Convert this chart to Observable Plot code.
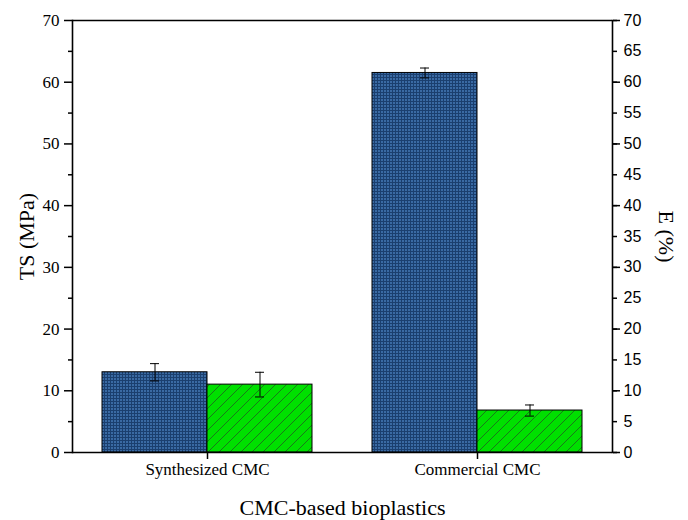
<!DOCTYPE html>
<html>
<head>
<meta charset="utf-8">
<script src="https://cdn.jsdelivr.net/npm/d3@7"></script>
<script src="https://cdn.jsdelivr.net/npm/@observablehq/plot@0.6"></script>
<style>
  body { margin: 0; background: #fff; }
</style>
</head>
<body>
<div id="chart"></div>
<script>
const categories = ["Synthesized CMC", "Commercial CMC"];
const series = ["TS", "E"];
const tsValues = [13.0, 61.5];
const tsErrors = [1.4, 0.8];
const eValues = [11.0, 6.8];
const eErrors = [2.0, 0.9];
const leftTicks = [0, 10, 20, 30, 40, 50, 60, 70];
const leftMinorTicks = [5, 15, 25, 35, 45, 55, 65];
const rightTicks = [0, 5, 10, 15, 20, 25, 30, 35, 40, 45, 50, 55, 60, 65, 70];

const rows = categories.flatMap((c, i) => [
  {category: c, series: "TS", value: tsValues[i], err: tsErrors[i]},
  {category: c, series: "E", value: eValues[i], err: eErrors[i]}
]);

const serif = "'Liberation Serif', 'Times New Roman', serif";
const sans = "'Liberation Sans', Arial, sans-serif";

const chart = Plot.plot({
  width: 688,
  height: 520,
  marginLeft: 72,
  marginRight: 76,
  marginTop: 20,
  marginBottom: 68,
  style: {fontFamily: serif, color: "#000", background: "#fff"},
  fx: {domain: categories, paddingInner: 0, paddingOuter: 0, axis: null},
  x: {domain: series, paddingInner: 0, paddingOuter: 0.274, axis: null},
  y: {domain: [0, 70], axis: null},
  marks: [
    Plot.barY(rows.filter(d => d.series === "TS"), {fx: "category", x: "series", y: "value", fill: "url(#dots)", stroke: "#000", strokeWidth: 1}),
    Plot.barY(rows.filter(d => d.series === "E"), {fx: "category", x: "series", y: "value", fill: "url(#hatch)", stroke: "#000", strokeWidth: 1}),
    Plot.ruleX(rows, {fx: "category", x: "series", y1: d => d.value - d.err, y2: d => d.value + d.err, stroke: "#000", strokeWidth: 1}),
    Plot.tickY(rows, {fx: "category", x: "series", y: d => d.value - d.err, stroke: "#000", inset: 48}),
    Plot.tickY(rows, {fx: "category", x: "series", y: d => d.value + d.err, stroke: "#000", inset: 48}),
    Plot.ruleY([0, 70], {stroke: "#000", strokeWidth: 1.6}),
    Plot.frame({anchor: "left", facetAnchor: "left", stroke: "#000", strokeWidth: 1.6}),
    Plot.frame({anchor: "right", facetAnchor: "right", stroke: "#000", strokeWidth: 1.6}),
    Plot.axisFx({anchor: "bottom", tickSize: 7, strokeWidth: 1.5, label: "CMC-based bioplastics", labelAnchor: "center", labelArrow: "none", labelOffset: 62}),
    Plot.axisY({anchor: "left", ticks: leftTicks, tickSize: 8, tickPadding: 5, strokeWidth: 1.5, label: "TS (MPa)", labelAnchor: "center", labelArrow: "none", labelOffset: 54}),
    Plot.axisY({anchor: "left", ticks: leftMinorTicks, tickSize: 4, strokeWidth: 1.5, tickFormat: () => "", label: null}),
    Plot.axisY({anchor: "right", ticks: leftTicks, tickSize: 7, strokeWidth: 1.5, tickFormat: () => "", label: null}),
    Plot.axisY({anchor: "right", ticks: rightTicks, tickSize: 4, tickPadding: 7, strokeWidth: 1.5, label: "E (%)", labelAnchor: "center", labelArrow: "none", labelOffset: 46})
  ]
});

// Fill patterns for the two bar series
const defs = d3.select(chart).insert("defs", ":first-child");
const dots = defs.append("pattern").attr("id", "dots").attr("patternUnits", "userSpaceOnUse").attr("width", 3).attr("height", 3);
dots.append("rect").attr("width", 3).attr("height", 3).attr("fill", "#1b3f6e");
dots.append("rect").attr("width", 2).attr("height", 2).attr("fill", "#3a6aa3");
const hatch = defs.append("pattern").attr("id", "hatch").attr("patternUnits", "userSpaceOnUse").attr("width", 11).attr("height", 11);
hatch.append("rect").attr("width", 11).attr("height", 11).attr("fill", "#00e000");
hatch.append("path").attr("d", "M0,11L11,0M-3,3L3,-3M8,14L14,8").attr("stroke", "#1f5f1f").attr("stroke-width", 0.8);

// Typography: serif for the left axis, category labels and titles; sans-serif for the right axis
const svg = d3.select(chart);
svg.selectAll('g[aria-label="y-axis tick label"]').each(function() {
  const texts = d3.select(this).selectAll("text");
  const labelled = texts.filter(function() { return this.textContent !== ""; }).size();
  const right = labelled === rightTicks.length;
  texts.style("font-family", right ? sans : serif)
       .style("font-size", right ? "16px" : "17px")
       .style("font-variant", "normal")
       .style("fill", "#000");
});
svg.selectAll('g[aria-label="fx-axis tick label"] text').style("font-family", serif).style("font-size", "17px").style("fill", "#000");
svg.selectAll('g[aria-label="y-axis label"] text, g[aria-label="fx-axis label"] text').style("font-family", serif).style("font-size", "22px").style("fill", "#000");
svg.selectAll('g[aria-label^="y-axis tick"], g[aria-label^="fx-axis tick"]').filter(function() { return !this.getAttribute("aria-label").includes("label"); }).attr("stroke", "#000");

// The right-hand title reads top to bottom
svg.selectAll('g[aria-label="y-axis label"] text').each(function() {
  const t = this.getAttribute("transform") || "";
  if (this.textContent === "E (%)") this.setAttribute("transform", t.replace("rotate(-90)", "rotate(90)"));
});

document.getElementById("chart").appendChild(chart);
</script>
</body>
</html>
